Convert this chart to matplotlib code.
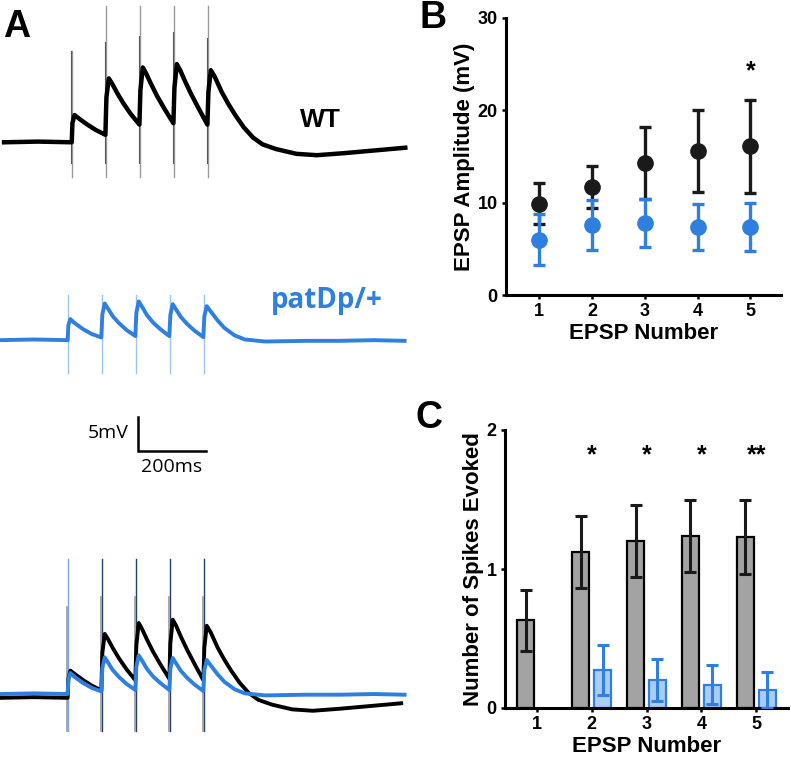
import matplotlib
matplotlib.use("Agg")
import matplotlib.pyplot as plt
import numpy as np

plt.rcParams["font.family"] = ["Liberation Sans", "DejaVu Sans"]

# ---- panel A: recorded traces (ms, mV relative to baseline) ----
stim_times = [200, 300, 400, 500, 600]

wt_t = [0, 100, 199, 201, 207, 215, 228, 245, 270, 298,
        301, 308, 318, 332, 350, 372, 398,
        401, 408, 418, 432, 450, 472, 498,
        501, 508, 518, 532, 550, 572, 598,
        601, 608, 620, 640, 660, 680, 705, 732, 760, 800, 860, 920, 1000,
        1090, 1180]
wt_v = [0, 0.1, 0, 2.8, 4.0, 3.7, 3.2, 2.6, 1.8, 1.1,
        6.6, 9.4, 8.6, 7.3, 5.8, 4.2, 2.6,
        7.7, 11.0, 10.1, 8.6, 6.8, 4.9, 2.8,
        8.0, 11.5, 10.6, 9.0, 7.1, 5.0, 2.6,
        7.4, 10.6, 9.6, 7.4, 5.6, 4.0, 2.2, 0.7, -0.3, -1.0, -1.7, -1.9,
        -1.6, -1.2, -0.8]

dp_t = [0, 100, 199, 201, 207, 215, 228, 245, 270, 298,
        301, 308, 318, 332, 350, 372, 398,
        401, 408, 418, 432, 450, 472, 498,
        501, 508, 518, 532, 550, 572, 598,
        601, 608, 620, 640, 660, 690, 720, 780, 900, 1000, 1100, 1190]
dp_v = [0, 0.1, 0, 2.2, 3.1, 2.7, 2.2, 1.6, 0.9, 0.4,
        3.8, 5.4, 4.6, 3.5, 2.5, 1.5, 0.6,
        4.0, 5.7, 4.9, 3.7, 2.6, 1.6, 0.6,
        3.7, 5.3, 4.5, 3.4, 2.4, 1.4, 0.45,
        3.5, 5.0, 4.2, 2.9, 1.8, 0.7, 0.1, -0.2, -0.1, -0.1, 0.0, -0.1]

# stimulus artifact extents (mV)
wt_art_top = [13.4, 20, 20, 20, 20]
wt_spike_top = [13.4, 14.7, 15.7, 16.2, 15.3]
art_bottom = -5.1
dp_art_top = 6.6
dp_art_bottom = -4.9

# ---- panel B: EPSP amplitude ----
epsp_num = [1, 2, 3, 4, 5]
wt_amp = [9.9, 11.7, 14.3, 15.6, 16.1]
wt_amp_err = [2.2, 2.3, 3.9, 4.45, 5.05]
dp_amp = [6.0, 7.55, 7.8, 7.35, 7.35]
dp_amp_err = [2.75, 2.7, 2.65, 2.5, 2.6]

# ---- panel C: spikes evoked ----
wt_spk = [0.63, 1.12, 1.20, 1.24, 1.23]
wt_spk_err = [0.22, 0.26, 0.26, 0.26, 0.265]
dp_spk = [0.0, 0.27, 0.20, 0.166, 0.127]
dp_spk_err = [0.0, 0.18, 0.15, 0.14, 0.13]
c_stars = ["", "*", "*", "*", "**"]

BLUE = "#2f7fe0"
OPEN = ["Open Sans", "DejaVu Sans"]

fig = plt.figure(figsize=(7.91, 7.57), dpi=100)

# panel A axes, 1 ms = 0.34 px, 1 mV = 6.8 px
axA = fig.add_axes([0, 0, 410 / 791, 1])
axA.set_xlim(0, 410 / 0.34)
axA.set_ylim(0, 757 / 6.8)
axA.axis("off")

wt_base, dp_base = 90.4, 61.3
ov_dp_base, ov_wt_base = 9.26, 8.7
wt_shift = 12

# WT alone
for s, top, sp in zip(stim_times, wt_art_top, wt_spike_top):
    axA.plot([s + wt_shift] * 2, [wt_base + art_bottom, wt_base + top],
             color="#9a9a9a", lw=1.0, zorder=1)
    axA.plot([s + wt_shift - 2] * 2, [wt_base + art_bottom + 2, wt_base + sp],
             color="#555555", lw=0.8, zorder=1)
axA.plot(np.array(wt_t) + wt_shift, np.array(wt_v) + wt_base,
         color="black", lw=3.2, zorder=2, solid_joinstyle="round")
axA.text(941, 93.7, "WT", fontsize=19, fontweight="bold", ha="center", va="center")

# patDp/+ alone
for s in stim_times:
    axA.plot([s] * 2, [dp_base + dp_art_bottom, dp_base + dp_art_top],
             color="#9fc3f0", lw=1.0, zorder=1)
axA.plot(dp_t, np.array(dp_v) + dp_base, color=BLUE, lw=2.8, zorder=2,
         solid_joinstyle="round")
axA.text(962, 67.2, "patDp/+", fontsize=20, color=BLUE, fontweight="bold",
         family=OPEN, ha="center", va="center")

# scale bar
axA.plot([406, 406, 606], [50.0, 45.0, 45.0], color="black", lw=1.8,
         solid_joinstyle="miter")
axA.text(378, 47.6, "5mV", fontsize=14, family=OPEN, ha="right", va="center")
axA.text(506, 44.0, "200ms", fontsize=14, family=OPEN, ha="center", va="top")

# overlay
for i, s in enumerate(stim_times):
    axA.plot([s] * 2, [ov_dp_base - 5.5, ov_dp_base + 19.8],
             color="#7aa6e6" if i == 0 else "#26406e", lw=1.0, zorder=1)
    axA.plot([s - 3] * 2, [ov_dp_base - 5.5, ov_dp_base + 12.8 + (1.5 if i else 0)],
             color="#9a9a9a", lw=1.2, zorder=1)
axA.plot(wt_t, np.array(wt_v) + ov_wt_base, color="black", lw=2.8, zorder=2,
         solid_joinstyle="round")
axA.plot(dp_t, np.array(dp_v) + ov_dp_base, color=BLUE, lw=2.8, zorder=3,
         solid_joinstyle="round")

# ---- panel B ----
axB = fig.add_axes([506 / 791, 1 - 295 / 757, 275 / 791, 277 / 757])
axB.errorbar(epsp_num, wt_amp, yerr=wt_amp_err, fmt="o", color="#1a1a1a",
             ms=11, elinewidth=2.4, capsize=4, capthick=2.4, zorder=2)
axB.errorbar(epsp_num, dp_amp, yerr=dp_amp_err, fmt="o", color=BLUE,
             ms=11, elinewidth=2.4, capsize=4, capthick=2.4, zorder=3)
axB.text(5, 24.2, "*", fontsize=18, fontweight="bold", ha="center", va="center")
axB.set_xlim(0.37, 5.58)
axB.set_ylim(0, 30)
axB.set_yticks([0, 10, 20, 30])
axB.set_xticks(epsp_num)
axB.set_xlabel("EPSP Number", fontsize=16, fontweight="bold", labelpad=2)
axB.set_ylabel("EPSP Amplitude (mV)", fontsize=16, fontweight="bold", labelpad=2)

# ---- panel C ----
axC = fig.add_axes([505 / 791, 1 - 708 / 757, 283 / 791, 278 / 757])
x = np.array(epsp_num)
w = 0.31
axC.bar(x - 0.2, wt_spk, width=w, color="#a3a3a3", edgecolor="black", lw=1.6,
        zorder=2)
axC.errorbar(x - 0.2, wt_spk, yerr=wt_spk_err, fmt="none", ecolor="#1a1a1a",
             elinewidth=2.2, capsize=4, capthick=2.2, zorder=3)
axC.bar(x[1:] + 0.2, dp_spk[1:], width=w, color="#aacdf4", edgecolor=BLUE,
        lw=1.6, zorder=2)
axC.errorbar(x[1:] + 0.2, dp_spk[1:], yerr=dp_spk_err[1:], fmt="none",
             ecolor=BLUE, elinewidth=2.2, capsize=4, capthick=2.2, zorder=3)
for xi, st in zip(x, c_stars):
    if st:
        axC.text(xi, 1.82, st, fontsize=18, fontweight="bold", ha="center",
                 va="center")
axC.set_xlim(0.42, 5.58)
axC.set_ylim(0, 2)
axC.set_yticks([0, 1, 2])
axC.set_xticks(epsp_num)
axC.set_xlabel("EPSP Number", fontsize=16, fontweight="bold", labelpad=2)
axC.set_ylabel("Number of Spikes Evoked", fontsize=16, fontweight="bold",
               labelpad=2)

for ax in (axB, axC):
    for side in ("top", "right"):
        ax.spines[side].set_visible(False)
    for side in ("left", "bottom"):
        ax.spines[side].set_linewidth(2.2)
    ax.tick_params(direction="out", length=3, width=1.8, labelsize=13, pad=3)
    for lab in ax.get_xticklabels() + ax.get_yticklabels():
        lab.set_fontweight("bold")

# panel letters
fig.text(3 / 791, 1 - 37 / 757, "A", fontsize=27, fontweight="bold")
fig.text(419 / 791, 1 - 28 / 757, "B", fontsize=27, fontweight="bold")
fig.text(416 / 791, 1 - 428 / 757, "C", fontsize=27, fontweight="bold")

fig.savefig("out.png", dpi=100)
